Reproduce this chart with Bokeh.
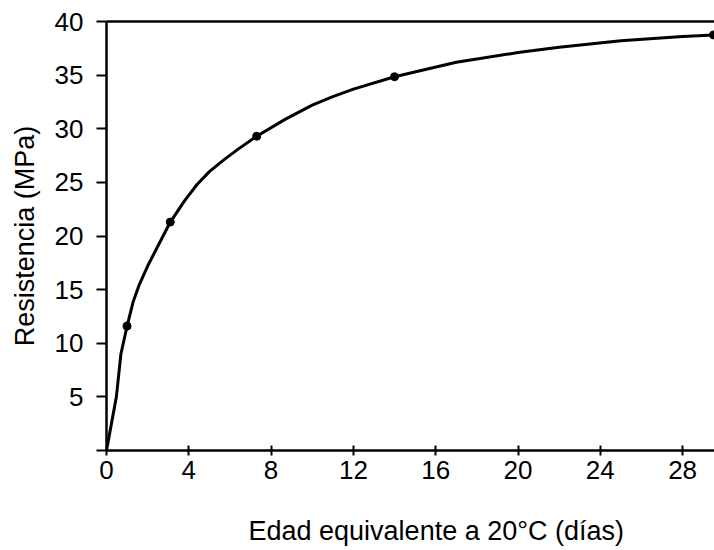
from bokeh.plotting import figure
from bokeh.models import Range1d, FixedTicker, LinearAxis, Title
from bokeh.embed import file_html
from bokeh.resources import INLINE

# Fitted strength-maturity curve
curve_days = [0, 0.48, 0.7, 1.0, 1.3, 1.6, 2.0, 2.4, 3.1, 3.8, 4.4, 5.0, 5.7, 6.4, 7.3, 8.7,
              10.0, 11.0, 12.0, 14.0, 17.0, 20.0, 22.0, 25.0, 28.0, 29.5]
curve_mpa = [0, 5.0, 9.0, 11.6, 13.9, 15.5, 17.2, 18.7, 21.3, 23.3, 24.8, 26.0, 27.1, 28.1,
             29.3, 30.9, 32.2, 33.0, 33.7, 34.85, 36.2, 37.1, 37.6, 38.2, 38.6, 38.75]

# Measured points
test_days = [1.0, 3.1, 7.3, 14.0, 29.5]
test_mpa = [11.6, 21.3, 29.3, 34.85, 38.75]

x_ticks = [0, 4, 8, 12, 16, 20, 24, 28]
y_ticks = [0, 5, 10, 15, 20, 25, 30, 35, 40]

x_label = "Edad equivalente a 20°C (días)"
y_label = "Resistencia (MPa)"

FONT = "Liberation Sans"

p = figure(width=714, height=550, output_backend="svg", toolbar_location=None,
           x_range=Range1d(0, 29.55), y_range=Range1d(0, 40),
           min_border_left=106, min_border_right=0, min_border_top=21,
           min_border_bottom=100)
p.outline_line_color = None
p.xgrid.visible = False
p.ygrid.visible = False
p.background_fill_color = "white"
p.border_fill_color = "white"

p.line(curve_days, curve_mpa, line_color="black", line_width=3, line_join="round")
p.scatter(test_days, test_mpa, size=8, fill_color="black", line_color="black")

xa = p.xaxis[0]
xa.ticker = FixedTicker(ticks=x_ticks)
xa.axis_line_width = 2.5
xa.major_tick_line_width = 2
xa.major_tick_in = 5
xa.major_tick_out = 5
xa.minor_tick_line_color = None
xa.major_label_text_font = FONT
xa.major_label_text_font_size = "26px"
xa.major_label_text_color = "black"
xa.major_label_standoff = 5

ya = p.yaxis[0]
ya.ticker = FixedTicker(ticks=y_ticks)
ya.major_label_overrides = {0: ""}
ya.axis_line_width = 2.5
ya.major_tick_line_width = 2
ya.major_tick_in = 0
ya.major_tick_out = 10
ya.minor_tick_line_color = None
ya.major_label_text_font = FONT
ya.major_label_text_font_size = "26px"
ya.major_label_text_color = "black"
ya.major_label_standoff = 13
ya.axis_label = y_label
ya.axis_label_text_font = FONT
ya.axis_label_text_font_size = "27px"
ya.axis_label_text_font_style = "normal"
ya.axis_label_text_color = "black"
ya.axis_label_standoff = 12

top = LinearAxis(ticker=FixedTicker(ticks=[]), axis_line_width=2.5,
                 major_tick_in=0, major_tick_out=0, minor_tick_line_color=None,
                 major_label_text_font_size="0px", major_label_standoff=0)
p.add_layout(top, "above")

# x-axis title, set lower by an empty first line
xt = Title(text="\n" + x_label, text_font=FONT, text_font_size="27px",
           text_font_style="normal", text_color="black", align="left",
           vertical_align="bottom", offset=142, standoff=4)
p.add_layout(xt, "below")

open("out.html", "w").write(file_html(p, INLINE))
